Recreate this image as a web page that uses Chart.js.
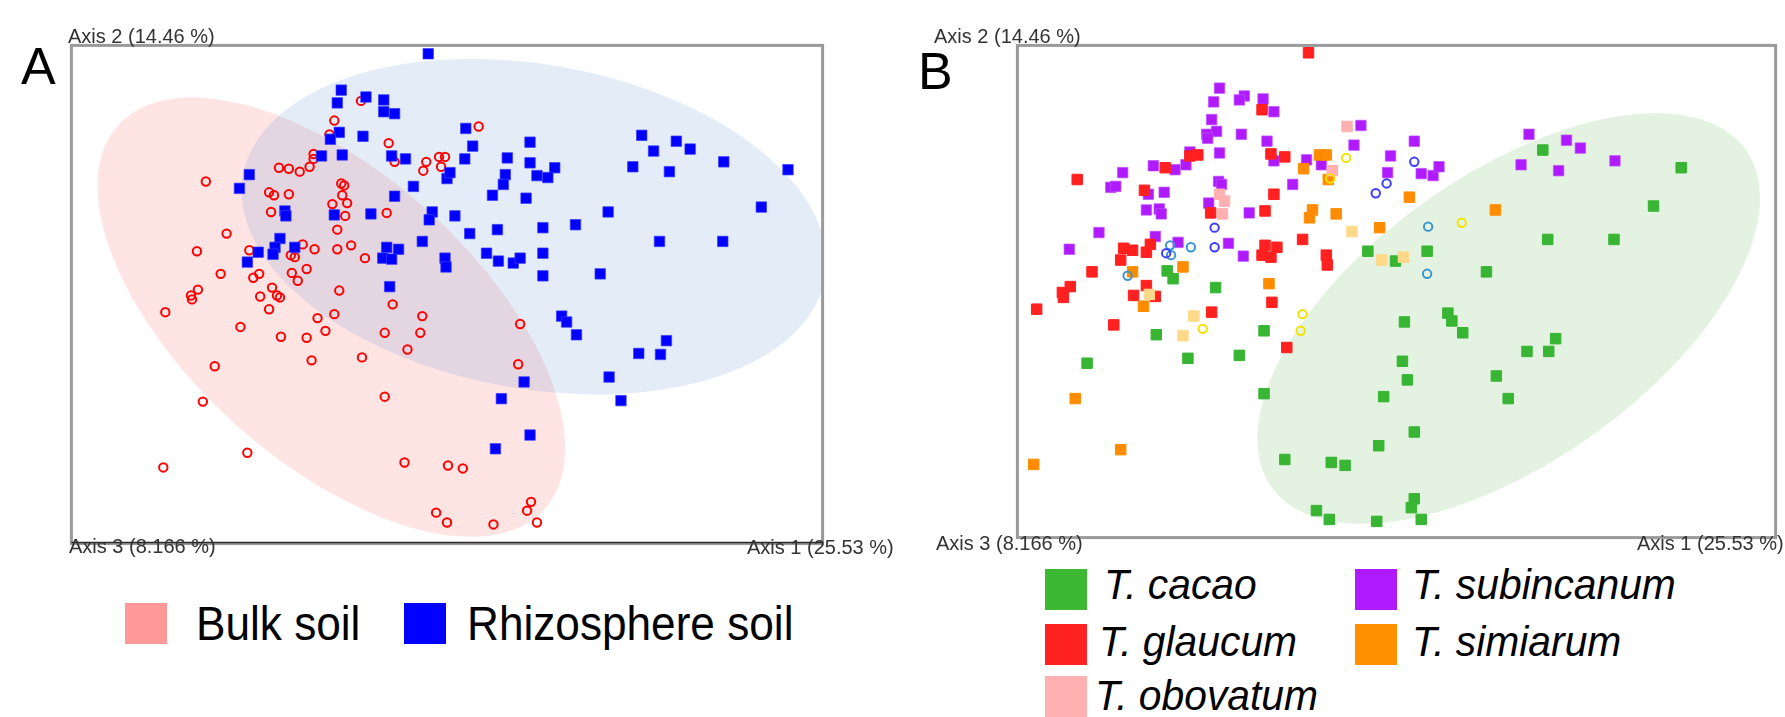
<!DOCTYPE html>
<html>
<head>
<meta charset="utf-8">
<script src="https://cdn.jsdelivr.net/npm/chart.js@4.4.1/dist/chart.umd.min.js"></script>
<style>
html,body{margin:0;padding:0;background:#fff;}
body{width:1785px;height:717px;position:relative;overflow:hidden;font-family:'Liberation Sans',Arial,sans-serif;}
.wrap{position:absolute;}
.lbl{position:absolute;font-size:20px;color:#333;white-space:nowrap;line-height:1;}
.panel{position:absolute;font-size:52px;color:#000;line-height:1;}
.sw{position:absolute;width:42px;height:41px;}
.lt{position:absolute;white-space:nowrap;color:#000;line-height:1;transform-origin:0 50%;}
</style>
</head>
<body>
<div class="panel" style="left:21px;top:40px">A</div>
<div class="panel" style="left:918px;top:45px">B</div>

<div class="wrap" style="left:63px;top:37px;width:768px;height:515px"><canvas id="chartA"></canvas></div>
<div class="wrap" style="left:1009px;top:37px;width:775px;height:509px"><canvas id="chartB"></canvas></div>

<div id="labels"></div>
<div id="legends"></div>

<script>
// axis titles (PCoA)
const axisTitles=['Axis 1 (25.53 %)','Axis 2 (14.46 %)','Axis 3 (8.166 %)'];

// ---- panel A : bulk vs rhizosphere ----
const bulkSoil=[[-0.087,0.197],[-0.114,0.177],[-0.119,0.163],[-0.059,0.154],[-0.135,0.143],[-0.135,0.138],[-0.053,0.135],[-0.021,0.135],[-0.008,0.140],[-0.002,0.140],[-0.006,0.130],[-0.024,0.126],[-0.170,0.129],[-0.160,0.128],[-0.149,0.125],[-0.139,0.130],[-0.244,0.115],[-0.180,0.104],[-0.175,0.101],[-0.160,0.102],[-0.107,0.113],[-0.104,0.111],[-0.106,0.101],[-0.101,0.093],[-0.116,0.092],[-0.178,0.084],[-0.103,0.080],[-0.061,0.083],[-0.111,0.066],[-0.223,0.062],[-0.253,0.044],[-0.200,0.045],[-0.146,0.051],[-0.134,0.046],[-0.111,0.046],[-0.097,0.050],[-0.083,0.037],[-0.158,0.040],[-0.154,0.038],[-0.229,0.021],[-0.196,0.017],[-0.190,0.021],[-0.157,0.022],[-0.142,0.026],[-0.151,0.014],[-0.177,0.007],[-0.252,0.005],[-0.259,-0.001],[-0.109,0.004],[-0.189,-0.002],[-0.172,-0.001],[-0.169,-0.003],[-0.258,-0.005],[-0.285,-0.018],[-0.180,-0.015],[-0.209,-0.033],[-0.131,-0.024],[-0.114,-0.020],[-0.123,-0.037],[-0.168,-0.043],[-0.142,-0.044],[-0.055,-0.010],[-0.025,-0.022],[-0.063,-0.039],[-0.027,-0.039],[-0.040,-0.056],[-0.235,-0.073],[-0.137,-0.067],[-0.086,-0.064],[-0.247,-0.109],[-0.063,-0.104],[-0.202,-0.161],[-0.287,-0.176],[-0.043,-0.171],[0.001,-0.174],[0.016,-0.177],[-0.011,-0.222],[0.000,-0.232],[0.047,-0.234],[0.091,-0.232],[0.085,-0.211],[0.081,-0.220],[0.074,-0.030],[0.072,-0.071],[0.032,0.171]];

const rhizoSoil=[[-0.019,0.245],[-0.107,0.208],[-0.082,0.201],[-0.064,0.198],[-0.111,0.195],[-0.064,0.186],[-0.053,0.184],[-0.109,0.165],[-0.118,0.158],[-0.085,0.161],[-0.127,0.141],[-0.106,0.142],[-0.056,0.141],[-0.042,0.138],[-0.200,0.122],[-0.210,0.108],[-0.034,0.110],[-0.053,0.100],[0.000,0.118],[-0.164,0.085],[-0.163,0.080],[-0.114,0.081],[-0.077,0.082],[-0.015,0.084],[-0.018,0.076],[-0.169,0.057],[-0.174,0.048],[-0.154,0.048],[-0.191,0.043],[-0.176,0.041],[-0.202,0.033],[-0.061,0.048],[-0.049,0.046],[-0.025,0.054],[-0.065,0.037],[-0.056,0.036],[-0.002,0.037],[-0.001,0.028],[-0.058,0.008],[0.008,0.080],[0.019,0.169],[0.026,0.151],[0.018,0.138],[0.003,0.124],[0.084,0.155],[0.061,0.139],[0.059,0.122],[0.057,0.112],[0.084,0.134],[0.109,0.129],[0.091,0.121],[0.102,0.119],[0.046,0.101],[0.080,0.098],[0.197,0.162],[0.209,0.146],[0.232,0.156],[0.246,0.148],[0.188,0.130],[0.225,0.125],[0.280,0.135],[0.345,0.127],[0.023,0.062],[0.051,0.066],[0.097,0.068],[0.130,0.071],[0.163,0.084],[0.318,0.089],[0.215,0.054],[0.279,0.054],[0.040,0.042],[0.052,0.034],[0.067,0.032],[0.074,0.037],[0.097,0.042],[0.097,0.019],[0.155,0.021],[0.116,-0.022],[0.121,-0.028],[0.131,-0.041],[0.222,-0.047],[0.194,-0.060],[0.216,-0.061],[0.164,-0.084],[0.078,-0.089],[0.055,-0.106],[0.176,-0.108],[0.084,-0.143],[0.049,-0.157]];

// confidence ellipses [centre x, centre y, semi axis a, semi axis b, angle deg]
const ellipseBulk=[-0.117,-0.023,0.291,0.146,-42.3];
const ellipseRhizo=[0.088,0.069,0.299,0.165,-10.1];

const rangeA={x:[-0.38,0.38],y:[-0.2535,0.2535]};
const legendA=['Bulk soil','Rhizosphere soil'];
const legendColorsA=['#ff9999','#0000ff'];

// ---- panel B : Theobroma species ----
const tCacao=[[-0.029,0.041],[-0.232,0.021],[-0.226,0.013],[-0.183,0.004],[0.148,0.144],[0.288,0.126],[0.260,0.087],[0.153,0.053],[0.220,0.053],[0.031,0.041],[-0.001,0.031],[0.091,0.020],[-0.243,-0.044],[-0.313,-0.073],[-0.211,-0.068],[-0.159,-0.065],[-0.134,-0.040],[-0.134,-0.104],[-0.013,-0.107],[-0.018,-0.157],[-0.113,-0.171],[-0.066,-0.174],[-0.052,-0.177],[-0.081,-0.223],[-0.068,-0.232],[-0.020,-0.234],[0.008,-0.031],[0.052,-0.022],[0.056,-0.030],[0.067,-0.042],[0.006,-0.071],[0.011,-0.090],[0.161,-0.048],[0.132,-0.061],[0.154,-0.061],[0.101,-0.086],[0.113,-0.109],[0.018,-0.143],[0.018,-0.211],[0.015,-0.220],[0.025,-0.232]];

const tGlaucum=[[-0.089,0.243],[-0.136,0.185],[-0.127,0.140],[-0.113,0.137],[-0.209,0.138],[-0.201,0.139],[-0.234,0.126],[-0.323,0.114],[-0.255,0.103],[-0.124,0.099],[-0.188,0.080],[-0.133,0.082],[-0.095,0.053],[-0.276,0.044],[-0.267,0.042],[-0.249,0.048],[-0.253,0.040],[-0.279,0.032],[-0.308,0.020],[-0.133,0.047],[-0.121,0.045],[-0.136,0.037],[-0.127,0.035],[-0.071,0.037],[-0.070,0.027],[-0.330,0.005],[-0.253,0.006],[-0.338,-0.001],[-0.337,-0.006],[-0.364,-0.018],[-0.266,-0.004],[-0.244,-0.005],[-0.286,-0.034],[-0.187,-0.021],[-0.126,-0.011],[-0.111,-0.057]];

const tSubincanum=[[-0.179,0.207],[-0.185,0.193],[-0.154,0.199],[-0.159,0.195],[-0.135,0.196],[-0.124,0.183],[-0.187,0.175],[-0.192,0.160],[-0.182,0.163],[-0.191,0.156],[-0.157,0.160],[-0.131,0.153],[-0.036,0.169],[-0.043,0.149],[-0.179,0.141],[-0.209,0.142],[-0.246,0.128],[-0.224,0.124],[-0.213,0.129],[-0.277,0.121],[-0.124,0.133],[-0.091,0.134],[-0.076,0.129],[-0.289,0.106],[-0.284,0.107],[-0.251,0.099],[-0.235,0.101],[-0.180,0.112],[-0.177,0.109],[-0.105,0.109],[-0.253,0.083],[-0.240,0.084],[-0.238,0.079],[-0.190,0.090],[-0.149,0.080],[-0.301,0.060],[-0.331,0.043],[-0.244,0.056],[-0.221,0.050],[-0.170,0.049],[-0.155,0.036],[-0.006,0.138],[-0.009,0.121],[0.018,0.153],[0.025,0.120],[0.037,0.118],[0.043,0.127],[0.134,0.160],[0.172,0.154],[0.186,0.146],[0.126,0.129],[0.164,0.123],[0.221,0.133]];

const tObovatum=[[-0.050,0.168],[-0.065,0.123],[-0.179,0.099],[-0.174,0.092],[-0.176,0.079]];

const tSimiarum=[[-0.078,0.139],[-0.071,0.139],[-0.094,0.125],[-0.069,0.114],[-0.085,0.083],[-0.088,0.075],[-0.061,0.079],[-0.017,0.065],[-0.216,0.025],[-0.267,0.020],[-0.129,0.008],[0.013,0.096],[0.100,0.083],[-0.256,-0.015],[-0.325,-0.109],[-0.279,-0.161],[-0.367,-0.176]];

// samples not listed in the legend
const paleSquares=[[-0.045,0.061],[-0.015,0.032],[0.007,0.035],[-0.205,-0.025],[-0.216,-0.045],[-0.250,-0.003]];
const yellowRings=[[-0.051,0.136],[-0.067,0.115],[0.066,0.070],[-0.196,-0.038],[-0.095,-0.023],[-0.097,-0.040]];
const blueRings=[[-0.021,0.100],[-0.010,0.110],[0.018,0.132],[-0.184,0.065],[-0.184,0.045],[-0.233,0.039]];
const tealRings=[[-0.229,0.047],[-0.228,0.037],[-0.208,0.045],[-0.272,0.016],[0.032,0.066],[0.031,0.018]];

const ellipseCacao=[0.1135,-0.0275,0.295,0.146,35.7];

const rangeB={x:[-0.3835,0.3835],y:[-0.2505,0.2505]};
const legendB=['T. cacao','T. subincanum','T. glaucum','T. simiarum','T. obovatum'];
const legendColorsB=['#3cb832','#b01aff','#ff2020','#ff9000','#ffb0b0'];

// ---------------------------------------------------------------
const toPts=arr=>arr.map(([x,y])=>({x,y}));

function squares(label,arr,color,edge){
  return {label,data:toPts(arr),pointStyle:'rect',pointRadius:7.4,pointHoverRadius:7.4,
    backgroundColor:color,borderColor:edge||color,borderWidth:1,clip:false};
}
function rings(label,arr,color){
  return {label,data:toPts(arr),pointStyle:'circle',pointRadius:4.2,pointHoverRadius:4.2,
    backgroundColor:'rgba(255,255,255,0)',borderColor:color,borderWidth:2,clip:false};
}

function ellipsePlugin(shapes){
  return {id:'ellipses',beforeDatasetsDraw(chart){
    const {ctx,chartArea:a,scales:{x,y}}=chart;
    const kx=x.getPixelForValue(1)-x.getPixelForValue(0);
    const ky=y.getPixelForValue(0)-y.getPixelForValue(1);
    ctx.save();
    ctx.beginPath();ctx.rect(a.left,a.top,a.right-a.left,a.bottom-a.top);ctx.clip();
    shapes.forEach(([e,fill])=>{
      const [cx,cy,ra,rb,ang]=e;
      ctx.save();
      ctx.translate(x.getPixelForValue(cx),y.getPixelForValue(cy));
      ctx.scale(kx,-ky);
      ctx.rotate(ang*Math.PI/180);
      ctx.beginPath();
      ctx.ellipse(0,0,ra,rb,0,0,Math.PI*2);
      ctx.restore();
      ctx.fillStyle=fill;
      ctx.fill();
    });
    ctx.restore();
  }};
}

function framePlugin(bottomColor){
  return {id:'frame',afterDraw(chart){
    const {ctx,chartArea:a}=chart;
    ctx.save();
    ctx.strokeStyle='#9a9a9a';ctx.lineWidth=3;
    ctx.strokeRect(a.left,a.top,a.right-a.left,a.bottom-a.top);
    if(bottomColor){
      ctx.strokeStyle=bottomColor;ctx.lineWidth=1.5;
      ctx.beginPath();ctx.moveTo(a.left,a.bottom-1);ctx.lineTo(a.right,a.bottom-1);ctx.stroke();
    }
    ctx.restore();
  }};
}

function baseOptions(range){
  return {
    responsive:true,maintainAspectRatio:false,animation:false,
    layout:{padding:4},
    plugins:{legend:{display:false},tooltip:{enabled:false}},
    scales:{
      x:{type:'linear',min:range.x[0],max:range.x[1],display:false},
      y:{type:'linear',min:range.y[0],max:range.y[1],display:false}
    }
  };
}

new Chart(document.getElementById('chartA'),{
  type:'scatter',
  data:{datasets:[
    squares('Rhizosphere soil',rhizoSoil,'#0000ff','rgba(60,60,255,0.7)'),
    rings('Bulk soil',bulkSoil,'#ff0000')
  ]},
  options:baseOptions(rangeA),
  plugins:[ellipsePlugin([[ellipseBulk,'rgba(255,0,0,0.105)'],[ellipseRhizo,'rgba(70,130,200,0.15)']]),framePlugin('#2a2a2a')]
});

new Chart(document.getElementById('chartB'),{
  type:'scatter',
  data:{datasets:[
    rings('yellow',yellowRings,'#f2e200'),
    rings('blue',blueRings,'#3c3cff'),
    rings('teal',tealRings,'#3a96d0'),
    squares('pale',paleSquares,'#ffd98a'),
    squares(legendB[4],tObovatum,'#ffb0b0'),
    squares(legendB[3],tSimiarum,'#ff8c00'),
    squares(legendB[2],tGlaucum,'#ff2020'),
    squares(legendB[1],tSubincanum,'#b01aff','rgba(190,80,255,0.7)'),
    squares(legendB[0],tCacao,'#38b533')
  ]},
  options:baseOptions(rangeB),
  plugins:[ellipsePlugin([[ellipseCacao,'rgba(60,160,40,0.14)']]),framePlugin(null)]
});

// axis titles at box corners
const labelPos=[
  [axisTitles[1],68,26],[axisTitles[2],69,536],[axisTitles[0],747,537],
  [axisTitles[1],934,26],[axisTitles[2],936,533],[axisTitles[0],1637,533]
];
document.getElementById('labels').innerHTML=labelPos.map(([t,l,tp])=>
  `<div class="lbl" style="left:${l}px;top:${tp}px">${t}</div>`).join('');

// legends
const legA=[[125,603,196],[404,603,467]];
const legB=[[1045,569,1104,564],[1355,569,1412,564],[1045,624,1099,621],[1355,624,1412,621],[1045,676,1095,675]];
let html='';
legendA.forEach((t,i)=>{
  const [sx,sy,tx]=legA[i];
  html+=`<div class="sw" style="left:${sx}px;top:${sy}px;background:${legendColorsA[i]}"></div>`;
  html+=`<div class="lt" style="left:${tx}px;top:600px;font-size:48px;transform:scaleX(.92)">${t}</div>`;
});
legendB.forEach((t,i)=>{
  const [sx,sy,tx,ty]=legB[i];
  html+=`<div class="sw" style="left:${sx}px;top:${sy}px;background:${legendColorsB[i]}"></div>`;
  html+=`<div class="lt" style="left:${tx}px;top:${ty}px;font-size:42.5px;font-style:italic;transform:scaleX(.96)">${t}</div>`;
});
document.getElementById('legends').innerHTML=html;
</script>
</body>
</html>
